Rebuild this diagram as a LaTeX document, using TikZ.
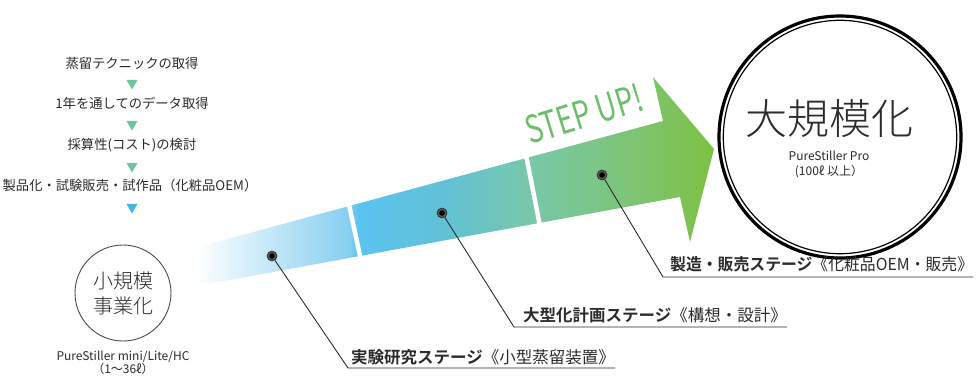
\documentclass[tikz,border=0pt]{standalone}
\usepackage{fontspec}
\usetikzlibrary{shapes.geometric}
\newfontfamily\jp{Noto Sans CJK JP}
\IfFontExistsTF{Noto Sans CJK JP Light}{\newfontfamily\jplight{Noto Sans CJK JP Light}}{\newfontfamily\jplight{Noto Sans CJK JP}}
\IfFontExistsTF{Noto Sans CJK JP Bold}{\newfontfamily\jpbold{Noto Sans CJK JP Bold}}{\newfontfamily\jpbold{Noto Sans CJK JP}[FakeBold=2]}
\definecolor{ink}{HTML}{2B2B2B}
\definecolor{trig}{HTML}{6CC59C}
\definecolor{trib}{HTML}{45B6E0}
\definecolor{stepg}{HTML}{6DBE6B}
\definecolor{sA}{HTML}{86CFF0}
\definecolor{sB}{HTML}{5AC3EF}
\definecolor{sC}{HTML}{62C1D5}
\definecolor{sD}{HTML}{78C8AA}
\definecolor{sE}{HTML}{7EC470}
\definecolor{sF}{HTML}{7DC242}
\pgfdeclarehorizontalshading{stepshade}{100bp}{color(0bp)=(white); color(27.3bp)=(white); color(41.5bp)=(sA); color(42.3bp)=(sB); color(50.3bp)=(sC); color(58.1bp)=(sD); color(68.2bp)=(sE); color(75bp)=(sF); color(100bp)=(sF)}
\begin{document}
\begin{tikzpicture}[x=1pt,y=-1pt,
  listtext/.style={font=\jp\fontsize{13.3}{15}\selectfont, text=ink, inner sep=0},
  tri/.style={regular polygon, regular polygon sides=3, shape border rotate=180, minimum size=13pt, inner sep=0, fill=#1},
  lab/.style={font=\jp\fontsize{16.5}{18}\selectfont, text=ink, inner sep=0, anchor=base west},
  lead/.style={draw=ink, line width=0.9pt},
  dot/.style={circle, minimum size=10pt, inner sep=0, fill=black!65, draw=black!85, line width=0.6pt,
    path picture={\fill[black] (path picture bounding box.center) circle[radius=2.8pt];}},
  gap/.style={draw=white, line width=4.5pt},
  subtext/.style={font=\jp\fontsize{12}{13.5}\selectfont, text=ink, align=center, inner sep=0}
]
\useasboundingbox (0,0) rectangle (979,378);

% arrow
\shade[shading=stepshade] (172,254) -- (663,121) -- (653,77) -- (714,149) -- (690,242) -- (680,197) -- (170,291) -- cycle;
\draw[gap] (348,200) -- (362,265);
\draw[gap] (525,150) -- (541,231);
\node[rotate=17, anchor=base west, inner sep=0, text=stepg, font=\jp\fontsize{38}{38}\selectfont] (step) at (530,145) {\scalebox{0.74}[1]{STEP UP!}};

% left list
\node[listtext] (t1) at (132,63) {蒸留テクニックの取得};
\node[tri=trig] (a1) at (132,83) {};
\node[listtext] (t2) at (132,103) {1年を通してのデータ取得};
\node[tri=trig] (a2) at (132,124) {};
\node[listtext] (t3) at (132,145) {採算性(コスト)の検討};
\node[tri=trig] (a3) at (132,166) {};
\node[listtext] (t4) at (130,185) {製品化・試験販売・試作品（化粧品OEM）};
\node[tri=trib] (a4) at (132,207) {};

% small circle
\node[circle, draw=ink!85, line width=0.9pt, minimum size=96pt, inner sep=0, align=center,
  font=\jplight\fontsize{20}{25}\selectfont, text=ink] (small) at (123,293) {小規模\\事業化};
\node[subtext] (smalls) at (123,363) {PureStiller mini/Lite/HC\\（1〜36ℓ）};

% big circle
\node[circle, draw=black, line width=3.2pt, minimum size=242pt, inner sep=0] (big) at (840,137) {};
\node[circle, draw=black, line width=1.2pt, minimum size=233.4pt, inner sep=0] (bigin) at (big.center) {};
\node[inner sep=0, font=\jplight\fontsize{42}{42}\selectfont, text=ink] (bigt) at (829,119) {大規模化};
\node[subtext, font=\jp\fontsize{12}{15}\selectfont] (bigs) at (829,164) {PureStiller Pro\\(100ℓ 以上）};

% dots
\node[dot] (d1) at (272,256) {};
\node[dot] (d2) at (442,213) {};
\node[dot] (d3) at (602,175) {};

% labels
\node[lab] (l1) at (351,363) {{\jpbold 実験研究ステージ}《小型蒸留装置》};
\node[lab] (l2) at (523,321) {{\jpbold 大型化計画ステージ}《構想・設計》};
\node[lab] (l3) at (670,270) {\scalebox{0.96}[1]{{\jpbold 製造・販売ステージ}《化粧品OEM・販売》}};

\coordinate (k1) at (348,368);
\coordinate (k2) at (514,327);
\coordinate (k3) at (663,277);
\draw[lead] (d1) -- (k1) -- (k1 -| l1.east);
\draw[lead] (d2) -- (k2) -- (k2 -| l2.east);
\draw[lead] (d3) -- (k3) -- (k3 -| l3.east);
\end{tikzpicture}
\end{document}
